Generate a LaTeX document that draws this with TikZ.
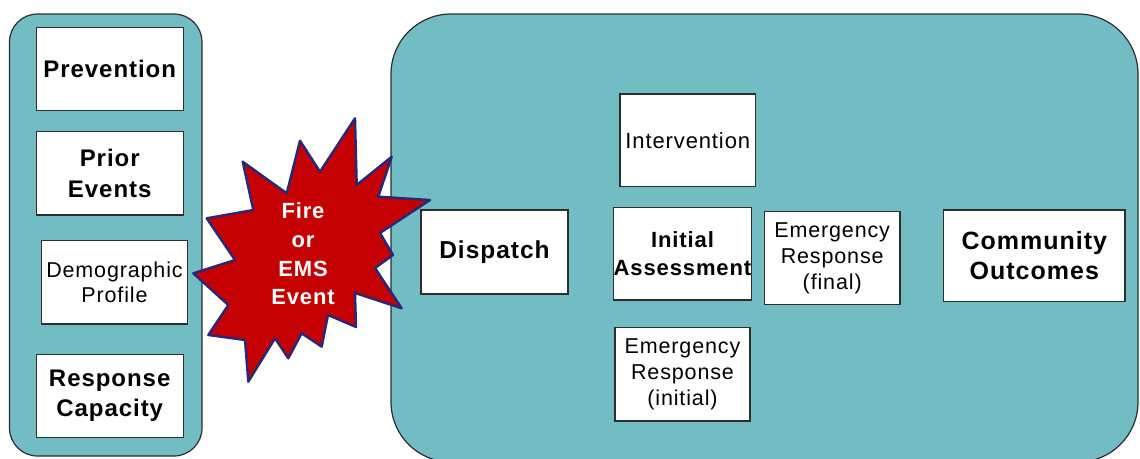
\documentclass[tikz,border=0pt]{standalone}
\usepackage{fontspec}
\setmainfont{Liberation Sans}[LetterSpace=4]
\definecolor{panelteal}{RGB}{114,189,196}
\definecolor{starred}{RGB}{196,0,0}
\definecolor{starline}{RGB}{40,40,120}
\definecolor{edgegray}{RGB}{45,45,45}
\begin{document}
\begin{tikzpicture}[x=1pt,y=-1pt,
  panel/.style={draw=edgegray, line width=1.2pt, fill=panelteal},
  box/.style={draw=edgegray, line width=1.1pt, fill=white, inner sep=0pt, align=center, text=black},
  bigbold/.style={font=\fontsize{24}{31}\selectfont\bfseries},
  starbox/.style={fill=starred, draw=starline, line width=2.4pt, line join=round},
  startext/.style={text=white, align=center, font=\fontsize{22}{28.7}\selectfont\bfseries},
]
\useasboundingbox (0,0) rectangle (1140,458);
\fill[white] (0,0) rectangle (1140,458);

% panels
\draw[panel, rounded corners=28pt] (9.5,14) rectangle (202,456);
\draw[panel, rounded corners=60pt] (391,14) rectangle (1138,462);

% left panel boxes
\node[box, bigbold, minimum width=147.3pt, minimum height=83.4pt] (prevention) at (109.7,69) {Prevention};
\node[box, bigbold, minimum width=147.3pt, minimum height=83.3pt] (prior) at (109.7,173.3) {Prior\\Events};
\node[box, font=\fontsize{21.5}{25}\selectfont, minimum width=145.6pt, minimum height=83.3pt] (demo) at (114.5,282.3) {Demographic\\Profile};
\node[box, font=\fontsize{24}{30}\selectfont\bfseries, minimum width=147.3pt, minimum height=83.4pt] (capacity) at (109.7,396) {Response\\Capacity};

% right panel boxes
\node[box, font=\fontsize{24.5}{30}\selectfont\bfseries, minimum width=147pt, minimum height=84pt] (dispatch) at (494.5,252) {Dispatch};
\node[box, font=\fontsize{22}{26}\selectfont, minimum width=135.7pt, minimum height=92.7pt] (intervention) at (687.8,140.3) {Intervention};
\node[box, font=\fontsize{22}{28}\selectfont\bfseries, minimum width=135pt, minimum height=92.3pt] (initial) at (682.5,253.8) {Initial\\Assessment};
\node[box, font=\fontsize{21.5}{26}\selectfont, minimum width=135.6pt, minimum height=92.6pt] (erfinal) at (832.2,258) {Emergency\\Response\\(final)};
\node[box, font=\fontsize{25}{30}\selectfont\bfseries, minimum width=181.3pt, minimum height=91.7pt] (outcomes) at (1034.3,255.8) {Community\\Outcomes};
\node[box, font=\fontsize{21.5}{26}\selectfont, minimum width=135pt, minimum height=93.3pt] (erinitial) at (682.5,374.3) {Emergency\\Response\\(initial)};

% starburst
\draw[starbox] (242.7,161.7) -- (286.7,193.3) -- (300,140.7) -- (320,171.7)
  -- (355,118.3) -- (356.7,185) -- (391.7,156.7) -- (378.3,196.7)
  -- (430,200) -- (380,233) -- (393,255) -- (375,268)
  -- (401.7,308.3) -- (355,293) -- (356,327) -- (328,315)
  -- (321.7,346.7) -- (301.7,333.3) -- (288.3,358.3) -- (275,338.3)
  -- (248.3,381.7) -- (245,340) -- (208.3,335) -- (228.3,305)
  -- (193.3,273.3) -- (235,260) -- (206.7,218.3) -- (253.3,210) -- cycle;
\node[startext] (event) at (303,254) {Fire\\or\\EMS\\Event};
\end{tikzpicture}
\end{document}
